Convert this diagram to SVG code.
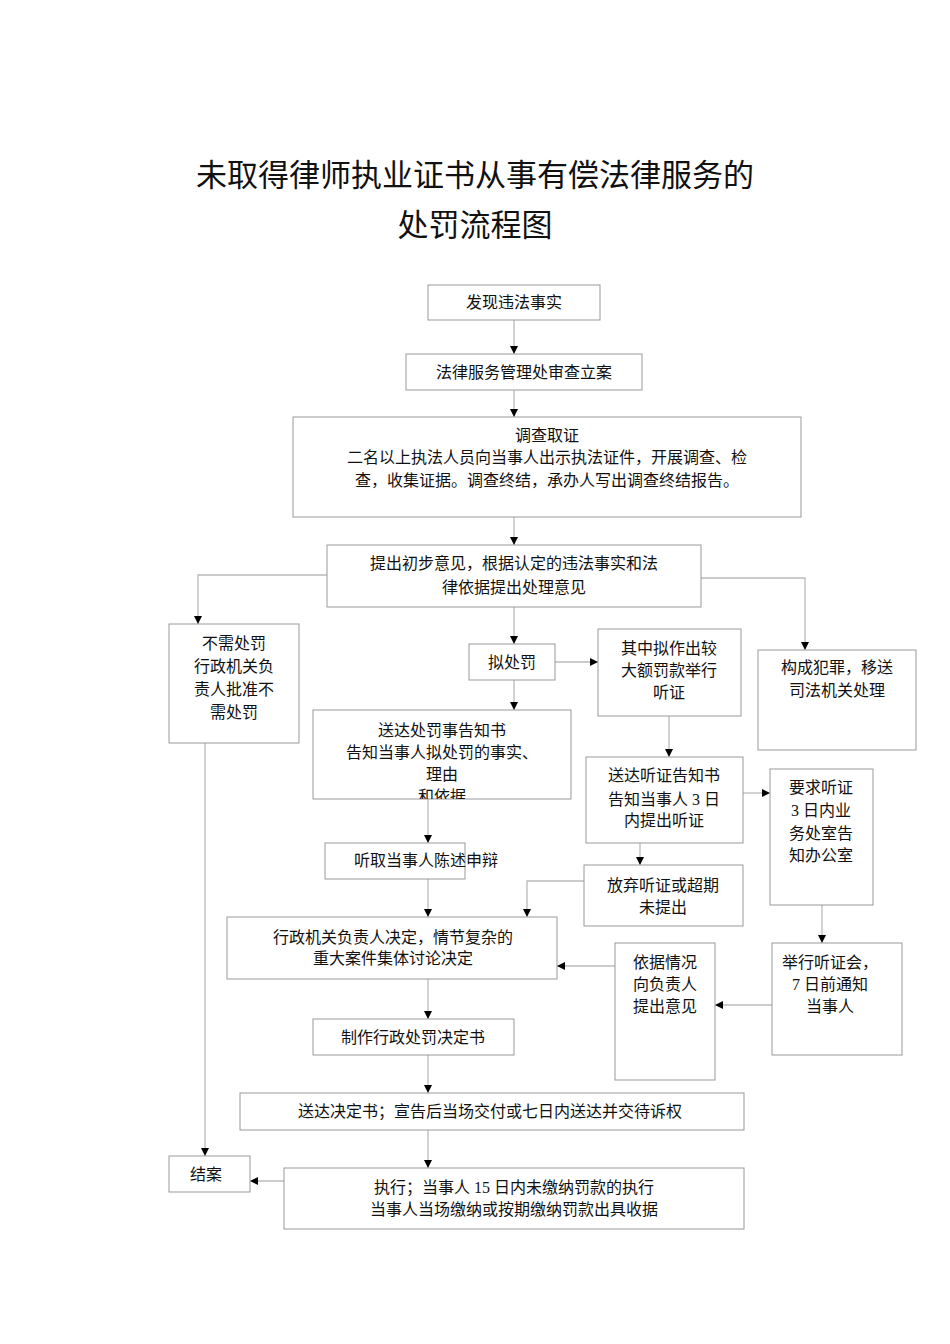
<svg xmlns="http://www.w3.org/2000/svg" width="950" height="1344" viewBox="0 0 950 1344">
<style>
.b{fill:#fff;stroke:#999;stroke-width:1}
.t{font-family:"Liberation Serif","Noto Sans CJK SC",serif;font-size:16px;fill:#111;text-anchor:middle}
.h{font-family:"Noto Sans CJK SC",sans-serif;font-size:31px;fill:#111;text-anchor:middle}
.c{fill:none;stroke:#bbb;stroke-width:1.3}
</style>
<defs>
<marker id="a" viewBox="0 0 10 10" refX="10" refY="5" markerWidth="8" markerHeight="8" orient="auto" markerUnits="userSpaceOnUse"><path d="M0,0L10,5L0,10z" fill="#000"/></marker>
<clipPath id="cp"><rect x="313" y="710" width="258" height="89"/></clipPath>
</defs>
<rect width="950" height="1344" fill="#fff"/>
<text class="h" x="475" y="186">未取得律师执业证书从事有偿法律服务的</text>
<text class="h" x="475" y="236">处罚流程图</text>
<g id="connectors">
<path class="c" marker-end="url(#a)" d="M514,320V354"/>
<path class="c" marker-end="url(#a)" d="M514,390V417"/>
<path class="c" marker-end="url(#a)" d="M514,517V545"/>
<path class="c" marker-end="url(#a)" d="M327,575H198V624"/>
<path class="c" marker-end="url(#a)" d="M701,578H805V650"/>
<path class="c" marker-end="url(#a)" d="M514,607V644"/>
<path class="c" marker-end="url(#a)" d="M555,662H598"/>
<path class="c" marker-end="url(#a)" d="M514,680V710"/>
<path class="c" marker-end="url(#a)" d="M669,716V757"/>
<path class="c" marker-end="url(#a)" d="M743,793H770"/>
<path class="c" marker-end="url(#a)" d="M428,799V843"/>
<path class="c" marker-end="url(#a)" d="M640,843V865"/>
<path class="c" marker-end="url(#a)" d="M428,879V917"/>
<path class="c" marker-end="url(#a)" d="M584,881H527V917"/>
<path class="c" marker-end="url(#a)" d="M822,905V943"/>
<path class="c" marker-end="url(#a)" d="M772,1005H715"/>
<path class="c" marker-end="url(#a)" d="M615,966H557"/>
<path class="c" marker-end="url(#a)" d="M428,979V1019"/>
<path class="c" marker-end="url(#a)" d="M428,1055V1093"/>
<path class="c" marker-end="url(#a)" d="M428,1130V1168"/>
<path class="c" marker-end="url(#a)" d="M205,743V1156"/>
<path class="c" marker-end="url(#a)" d="M284,1181H250"/>
</g>
<g id="n1"><rect class="b" x="428" y="285" width="172" height="35"/><text class="t" x="514" y="308">发现违法事实</text></g>
<g id="n2"><rect class="b" x="406" y="354" width="236" height="36"/><text class="t" x="524" y="378">法律服务管理处审查立案</text></g>
<g id="n3"><rect class="b" x="293" y="417" width="508" height="100"/><text class="t" x="547" y="441">调查取证</text><text class="t" x="547" y="463">二名以上执法人员向当事人出示执法证件，开展调查、检</text><text class="t" x="547" y="486">查，收集证据。调查终结，承办人写出调查终结报告。</text></g>
<g id="n4"><rect class="b" x="327" y="545" width="374" height="62"/><text class="t" x="514" y="569">提出初步意见，根据认定的违法事实和法</text><text class="t" x="514" y="593">律依据提出处理意见</text></g>
<g id="n5"><rect class="b" x="169" y="624" width="130" height="119"/><text class="t" x="234" y="649">不需处罚</text><text class="t" x="234" y="672">行政机关负</text><text class="t" x="234" y="695">责人批准不</text><text class="t" x="234" y="718">需处罚</text></g>
<g id="n6"><rect class="b" x="469" y="644" width="86" height="36"/><text class="t" x="512" y="668">拟处罚</text></g>
<g id="n7"><rect class="b" x="598" y="629" width="143" height="87"/><text class="t" x="669" y="654">其中拟作出较</text><text class="t" x="669" y="676">大额罚款举行</text><text class="t" x="669" y="698">听证</text></g>
<g id="n8"><rect class="b" x="758" y="650" width="158" height="100"/><text class="t" x="837" y="673">构成犯罪，移送</text><text class="t" x="837" y="696">司法机关处理</text></g>
<g id="n9"><rect class="b" x="313" y="710" width="258" height="89"/><g clip-path="url(#cp)"><text class="t" x="442" y="736">送达处罚事告知书</text><text class="t" x="442" y="758">告知当事人拟处罚的事实、</text><text class="t" x="442" y="780">理由</text><text class="t" x="442" y="802">和依据</text></g></g>
<g id="n10"><rect class="b" x="586" y="757" width="157" height="86"/><text class="t" x="664" y="781">送达听证告知书</text><text class="t" x="664" y="805">告知当事人 3 日</text><text class="t" x="664" y="826">内提出听证</text></g>
<g id="n11"><rect class="b" x="770" y="769" width="103" height="136"/><text class="t" x="821" y="793">要求听证</text><text class="t" x="821" y="816">3 日内业</text><text class="t" x="821" y="839">务处室告</text><text class="t" x="821" y="861">知办公室</text></g>
<g id="n12"><rect class="b" x="325" y="843" width="140" height="36"/><text class="t" x="426" y="866">听取当事人陈述申辩</text></g>
<g id="n13"><rect class="b" x="584" y="865" width="159" height="61"/><text class="t" x="663" y="891">放弃听证或超期</text><text class="t" x="663" y="913">未提出</text></g>
<g id="n14"><rect class="b" x="227" y="917" width="330" height="62"/><text class="t" x="393" y="943">行政机关负责人决定，情节复杂的</text><text class="t" x="393" y="964">重大案件集体讨论决定</text></g>
<g id="n15"><rect class="b" x="615" y="943" width="100" height="137"/><text class="t" x="665" y="968">依据情况</text><text class="t" x="665" y="990">向负责人</text><text class="t" x="665" y="1012">提出意见</text></g>
<g id="n16"><rect class="b" x="772" y="943" width="130" height="112"/><text class="t" x="830" y="968">举行听证会，</text><text class="t" x="830" y="990">7 日前通知</text><text class="t" x="830" y="1012">当事人</text></g>
<g id="n17"><rect class="b" x="313" y="1019" width="201" height="36"/><text class="t" x="413" y="1043">制作行政处罚决定书</text></g>
<g id="n18"><rect class="b" x="240" y="1093" width="504" height="37"/><text class="t" x="490" y="1117">送达决定书；宣告后当场交付或七日内送达并交待诉权</text></g>
<g id="n19"><rect class="b" x="169" y="1156" width="81" height="36"/><text class="t" x="206" y="1180">结案</text></g>
<g id="n20"><rect class="b" x="284" y="1168" width="460" height="61"/><text class="t" x="514" y="1193">执行；当事人 15 日内未缴纳罚款的执行</text><text class="t" x="514" y="1215">当事人当场缴纳或按期缴纳罚款出具收据</text></g>
</svg>
